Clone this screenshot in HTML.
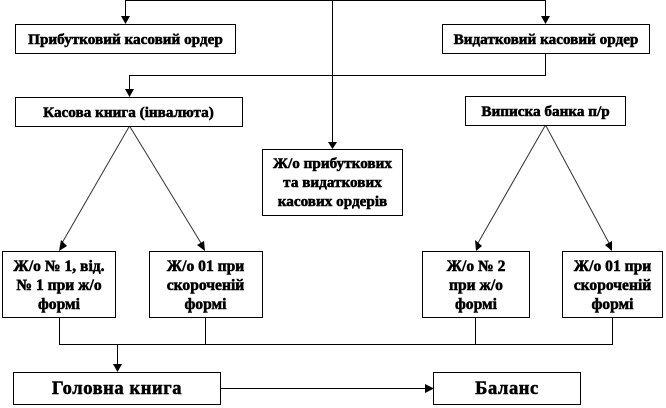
<!DOCTYPE html>
<html><head><meta charset="utf-8"><style>
html,body{margin:0;padding:0;background:#fff}
svg{display:block}
text{font-family:"Liberation Serif","Noto Serif CJK SC",serif;font-weight:bold;fill:#000;text-anchor:middle;stroke:#000;stroke-width:.55px}
.s{font-size:15.2px}.b{font-size:15.6px}.h{font-size:18.5px;letter-spacing:.6px}
rect{fill:#fff;stroke:#000;stroke-width:1}
.l{stroke:#000;stroke-width:1;fill:none}
.d{stroke:#333;stroke-width:1;fill:none}
polygon{fill:#000}
</style></head><body>
<svg width="666" height="408" viewBox="0 0 666 408" xmlns="http://www.w3.org/2000/svg">
<path class="l" d="M125.500 17V.5H545.500V17M332.500 0V142M545.500 53V75.500H129.500V90M59.500 317V344.500H612.500V317M205.500 317V344M475.500 317V344M117.500 344V365M220 388.500H427"/>
<path class="d" d="M129.500 126L62 243M129.500 126L201 243M545.500 125L478 243M545.500 125L609 243"/>
<polygon points="121,16 130,16 125.500,24"/>
<polygon points="541,16 550,16 545.500,24"/>
<polygon points="125,89 134,89 129.500,97"/>
<polygon points="328,142 337,142 332.500,149"/>
<polygon points="59,251 67,246 61,240"/>
<polygon points="205,251 204,241 197,245"/>
<polygon points="476,251 482,246 475,240"/>
<polygon points="612,251 612,241 605,245"/>
<polygon points="113,364 122,364 117.500,372"/>
<polygon points="434,388.500 425,384 425,393"/>
<rect x="15.500" y="24.500" width="220" height="29"/>
<rect x="442.500" y="24.500" width="207" height="29"/>
<rect x="15.500" y="97.500" width="227" height="29"/>
<rect x="465.500" y="96.500" width="160" height="29"/>
<rect x="262.500" y="149.500" width="140" height="66"/>
<rect x="2.500" y="251.500" width="113" height="66"/>
<rect x="149.500" y="251.500" width="113" height="66"/>
<rect x="422.500" y="251.500" width="107" height="66"/>
<rect x="562.500" y="251.500" width="100" height="66"/>
<rect x="13.500" y="372.500" width="207" height="32"/>
<rect x="433.500" y="372.500" width="147" height="32"/>
<text class="s" x="125.500" y="44">Прибутковий касовий ордер</text>
<text class="s" x="546" y="44">Видатковий касовий ордер</text>
<text class="s" x="128.500" y="117">Касова книга (інвалюта)</text>
<text class="s" x="545.500" y="116">Виписка банка п/р</text>
<text class="s" x="332.500" y="168">Ж/о прибуткових</text>
<text class="s" x="332.500" y="187">та видаткових</text>
<text class="s" x="332.500" y="206">касових ордерів</text>
<text class="b" x="59" y="271">Ж/о № 1, від.</text>
<text class="b" x="59" y="290">№ 1 при ж/о</text>
<text class="b" x="59" y="309">формі</text>
<text class="b" x="205.500" y="271">Ж/о 01 при</text>
<text class="b" x="205.500" y="290">скороченій</text>
<text class="b" x="205.500" y="309">формі</text>
<text class="b" x="476" y="271">Ж/о № 2</text>
<text class="b" x="476" y="290">при ж/о</text>
<text class="b" x="476" y="309">формі</text>
<text class="b" x="612.500" y="271">Ж/о 01 при</text>
<text class="b" x="612.500" y="290">скороченій</text>
<text class="b" x="612.500" y="309">формі</text>
<text class="h" x="117" y="394">Головна книга</text>
<text class="h" x="507" y="394">Баланс</text>
</svg>
</body></html>
